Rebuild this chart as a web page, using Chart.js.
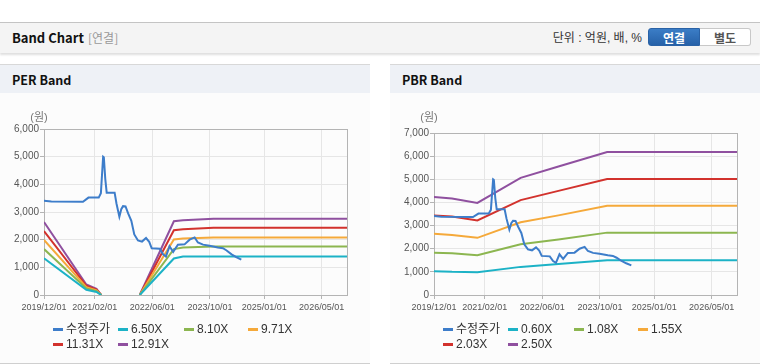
<!DOCTYPE html>
<html>
<head>
<meta charset="utf-8">
<script src="https://cdn.jsdelivr.net/npm/chart.js@4.4.1/dist/chart.umd.min.js"></script>
<style>
  body { margin: 0; width: 760px; height: 364px; background: #fff; position: relative; overflow: hidden;
         font-family: "Liberation Sans", "Noto Sans CJK KR", sans-serif; color: #333; }
  .top { position: absolute; left: 0; top: 22px; width: 760px; height: 30px; background: #f4f4f4;
         border-top: 1px solid #c4c4c4; box-shadow: 0 2px 2px rgba(0,0,0,.13); }
  .top .ttl { position: absolute; left: 12px; top: 6px; font: bold 13px "Noto Sans CJK KR"; color: #111; line-height: 18px; }
  .top .sub { position: absolute; left: 88px; top: 6px; font: 12px "Noto Sans CJK KR"; color: #999; line-height: 18px; }
  .top .unit { position: absolute; right: 118px; top: 7px; font-size: 12px; color: #333; line-height: 16px; }
  .btn { position: absolute; top: 5px; height: 18px; line-height: 18px; text-align: center;
         font: bold 12px "Noto Sans CJK KR"; box-sizing: border-box; }
  .btn.on { left: 648px; width: 52px; background: linear-gradient(#3b7dc6, #2661a8); color: #fff;
            border: 1px solid #2a62a6; border-radius: 3px 0 0 3px; }
  .btn.off { left: 700px; width: 51px; background: #fff; color: #555; border: 1px solid #c8c8c8;
             border-left: none; border-radius: 0 3px 3px 0; }
  .panel { position: absolute; top: 64px; width: 370px; height: 298px; background: #fcfcfc;
           border-top: 1px solid #d8d8d8; border-bottom: 1px solid #cfcfcf; }
  .panel .hd { height: 23px; padding-top: 5px; line-height: 20px; background: #eef1f6; padding-left: 12px;
               font: bold 12.5px "Noto Sans CJK KR"; color: #111; }
  .panel canvas { position: absolute; left: 0; top: 28px; }
  .legend { position: absolute; left: 0; top: 257px; width: 370px; font-size: 12px; color: #333; }
  .legend .it { position: absolute; height: 15px; line-height: 15px; white-space: nowrap; }
  .legend .it i { display: inline-block; width: 10px; height: 3px; vertical-align: middle; margin-right: 3px; }
</style>
</head>
<body>
<div class="top">
  <span class="ttl">Band Chart</span><span class="sub">[연결]</span>
  <span class="unit">단위 : 억원, 배, %</span>
  <div class="btn on">연결</div><div class="btn off">별도</div>
</div>
<div class="panel" style="left:0"><div class="hd">PER Band</div>
  <canvas id="perChart" width="370" height="230"></canvas><div class="legend" id="perLegend"></div></div>
<div class="panel" style="left:390px"><div class="hd">PBR Band</div>
  <canvas id="pbrChart" width="370" height="230"></canvas><div class="legend" id="pbrLegend"></div></div>
<script>
// x 축 눈금
const xTickDates = ['2019-12-01', '2021-02-01', '2022-06-01', '2023-10-01', '2025-01-01', '2026-05-01'];
const xStart = '2019-12-01';
const xEnd = '2026-12-01';

// 수정주가 (두 차트 공통)
const priceDates = ['2019-12-01', '2020-02-01', '2020-10-25', '2020-12-10', '2021-03-07', '2021-03-25',
  '2021-04-13', '2021-04-19', '2021-05-01', '2021-05-13', '2021-07-19', '2021-08-04', '2021-08-28',
  '2021-09-13', '2021-09-28', '2021-10-19', '2021-11-10', '2021-12-07', '2022-01-01', '2022-02-01',
  '2022-03-07', '2022-04-10', '2022-05-07', '2022-05-28', '2022-08-04', '2022-09-01', '2022-09-25',
  '2022-10-25', '2022-11-25', '2023-01-04', '2023-03-01', '2023-04-13', '2023-05-25', '2023-06-22',
  '2023-08-04', '2023-09-28', '2023-12-07', '2024-01-19', '2024-02-19', '2024-04-01', '2024-05-10',
  '2024-06-22'];
const priceValues = [3410, 3380, 3370, 3520, 3520, 3680,
  5000, 4980, 4200, 3700, 3700, 3300, 2830,
  3100, 3210, 3200, 2950, 2680, 2190, 1970,
  1930, 2060, 1920, 1690, 1670, 1470, 1390,
  1760, 1560, 1820, 1830, 2000, 2080, 1900,
  1820, 1780, 1720, 1690, 1610, 1470, 1370,
  1280];

// PER 밴드
const perLabels = ['6.50X', '8.10X', '9.71X', '11.31X', '12.91X'];
const perBandDates = ['2019-12-01', '2020-11-22', '2021-02-16', '2021-03-28', '2021-04-16',
  '2022-02-16', '2022-12-01', '2023-02-16', '2023-11-01', '2026-12-01'];
const per650 = [1330, 191, 111, 0, null, 0, 1320, 1390, 1395, 1395];
const per810 = [1660, 238, 138, 0, null, 0, 1660, 1720, 1750, 1750];
const per971 = [1990, 286, 165, 0, null, 0, 2005, 2040, 2080, 2080];
const per1131 = [2310, 333, 193, 0, null, 0, 2340, 2380, 2430, 2430];
const per1291 = [2640, 380, 220, 0, null, 0, 2665, 2700, 2760, 2760];

// PBR 밴드
const pbrLabels = ['0.60X', '1.08X', '1.55X', '2.03X', '2.50X'];
const pbrBandDates = ['2019-12-01', '2020-05-01', '2020-12-01', '2021-12-01', '2022-10-16',
  '2023-12-01', '2026-12-01'];
const pbr060 = [1030, 1000, 985, 1215, 1335, 1505, 1505];
const pbr108 = [1830, 1800, 1720, 2190, 2400, 2695, 2695];
const pbr155 = [2650, 2590, 2470, 3140, 3440, 3855, 3855];
const pbr203 = [3440, 3390, 3220, 4100, 4500, 5010, 5010];
const pbr250 = [4240, 4170, 3980, 5060, 5550, 6175, 6175];

const priceColor = '#3d7dca';
const bandColors = ['#1cb2c6', '#8cb650', '#f5a93a', '#d2322d', '#8f509f'];
const FONT = '"Liberation Sans", "Noto Sans CJK KR", sans-serif';

// 날짜 -> 기준일부터의 일수
const toDay = d => {
  const [y, m, dd] = d.split('-').map(Number);
  return (Date.UTC(y, m - 1, dd) - Date.UTC(2019, 11, 1)) / 864e5;
};
const pts = (dates, vals) => dates.map((d, i) => ({ x: toDay(d), y: vals[i] }));
const tickText = {};
xTickDates.forEach(d => { tickText[toDay(d)] = d.replace(/-/g, '/'); });

/**
 * 플롯 외곽선과 (원) 단위 표시
 */
const framePlugin = {
  id: 'frame',
  beforeDatasetsDraw(chart) {
    const { ctx, chartArea: a } = chart;
    ctx.save();
    ctx.strokeStyle = '#b4b4b4';
    ctx.lineWidth = 1;
    ctx.strokeRect(Math.round(a.left) + 0.5, Math.round(a.top) + 0.5,
      Math.round(a.right - a.left), Math.round(a.bottom - a.top));
    ctx.fillStyle = '#777';
    ctx.font = '11px ' + FONT;
    ctx.textAlign = 'center';
    ctx.textBaseline = 'middle';
    ctx.fillText('(원)', a.left - 5, 25);
    ctx.restore();
  }
};

function renderBand(canvasId, legendId, bandDates, bands, labels, yMax, padTop) {
  const datasets = [{ label: '수정주가', data: pts(priceDates, priceValues), borderColor: priceColor }]
    .concat(bands.map((vals, i) => ({ label: labels[i], data: pts(bandDates, vals), borderColor: bandColors[i] })))
    .map(ds => ({ ...ds, borderWidth: 2, pointRadius: 0, tension: 0, fill: false, spanGaps: false }));

  new Chart(document.getElementById(canvasId).getContext('2d'), {
    type: 'line',
    data: { datasets },
    options: {
      responsive: false,
      animation: false,
      layout: { padding: { left: 0, right: 23, top: padTop, bottom: 6 } },
      plugins: { legend: { display: false }, tooltip: { enabled: false } },
      scales: {
        x: {
          type: 'linear', min: 0, max: toDay(xEnd),
          afterBuildTicks: s => { s.ticks = xTickDates.map(d => ({ value: toDay(d) })); },
          afterFit: s => { s.height = 22; },
          grid: { color: '#e6e6e6', tickColor: '#b4b4b4', tickLength: 4 },
          border: { display: false },
          ticks: { autoSkip: false, maxRotation: 0, padding: 3, color: '#555',
                   font: { size: 9, family: FONT }, callback: v => tickText[v] }
        },
        y: {
          min: 0, max: yMax,
          afterFit: s => { s.width = 44; },
          grid: { color: '#e6e6e6', tickColor: '#b4b4b4', tickLength: 4 },
          border: { display: false },
          ticks: { stepSize: 1000, padding: 1, color: '#555', font: { size: 10, family: FONT },
                   callback: v => v.toLocaleString('en-US') }
        }
      }
    },
    plugins: [framePlugin]
  });

  // 범례: 고정 열 배치
  const cols = [53, 118, 184, 248];
  const legend = document.getElementById(legendId);
  datasets.forEach((ds, i) => {
    const it = document.createElement('div');
    it.className = 'it';
    it.style.left = cols[i % 4] + 'px';
    it.style.top = (Math.floor(i / 4) * 15) + 'px';
    it.innerHTML = '<i style="background:' + ds.borderColor + '"></i>' + ds.label;
    legend.appendChild(it);
  });
}

renderBand('perChart', 'perLegend', perBandDates, [per650, per810, per971, per1131, per1291], perLabels, 6000, 36);
renderBand('pbrChart', 'pbrLegend', pbrBandDates, [pbr060, pbr108, pbr155, pbr203, pbr250], pbrLabels, 7000, 40);
</script>
</body>
</html>
